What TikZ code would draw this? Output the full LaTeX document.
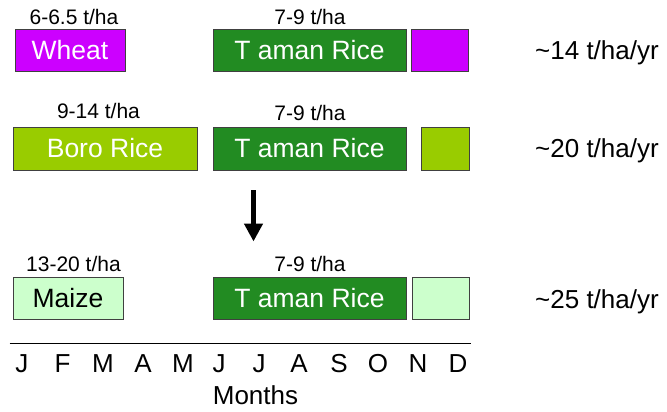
\documentclass[tikz,border=0pt]{standalone}
\usepackage{fontspec}
\setmainfont{Liberation Sans}
\usetikzlibrary{arrows.meta}
\definecolor{wheatc}{HTML}{CC00FF}
\definecolor{boroc}{HTML}{99CC00}
\definecolor{amanc}{HTML}{228B22}
\definecolor{maizec}{HTML}{CCFFCC}
\definecolor{edgec}{HTML}{404040}
\begin{document}
\begin{tikzpicture}[x=1pt,y=-1pt,
  crop/.style={draw=edgec,line width=0.9pt,inner sep=0pt,minimum height=42pt,
    font=\fontsize{26.5}{26.5}\selectfont},
  yieldlbl/.style={anchor=base,inner sep=0pt,font=\fontsize{21}{21}\selectfont},
  annual/.style={anchor=west,inner sep=0pt,font=\fontsize{26}{26}\selectfont},
  month/.style={anchor=base,inner sep=0pt,font=\fontsize{26}{26}\selectfont}]
\useasboundingbox (0,0) rectangle (667,412);
% row 1
\node[crop,fill=wheatc,text=white,minimum width=110pt] (wheat) at (70,50) {Wheat};
\node[crop,fill=amanc,text=white,minimum width=193pt] (aman1) at (309.5,50) {T aman Rice};
\node[crop,fill=wheatc,minimum width=57pt] (wheat2) at (439.5,50) {};
\node[yieldlbl] (l1a) at (74,25) {6-6.5 t/ha};
\node[yieldlbl] (l1b) at (310,25) {7-9 t/ha};
\node[annual] (y1) at (535,53) {\textasciitilde14 t/ha/yr};
% row 2
\node[crop,fill=boroc,text=white,minimum width=184pt,minimum height=43pt] (boro) at (105,148.5) {Boro Rice};
\node[crop,fill=amanc,text=white,minimum width=193pt,minimum height=43pt] (aman2) at (309.5,148.5) {T aman Rice};
\node[crop,fill=boroc,minimum width=48pt,minimum height=43pt] (boro2) at (445,148.5) {};
\node[yieldlbl] (l2a) at (98.5,118) {9-14 t/ha};
\node[yieldlbl] (l2b) at (310,121) {7-9 t/ha};
\node[annual] (y2) at (535,151) {\textasciitilde20 t/ha/yr};
% arrow
\coordinate (atop) at (253.5,190);
\coordinate (abot) at (253.5,241.5);
\draw[line width=5pt,-{Triangle[width=18pt,length=18pt]}] (atop) -- (abot);
% row 3
\node[crop,fill=maizec,minimum width=110pt] (maize) at (68,298) {Maize};
\node[crop,fill=amanc,text=white,minimum width=193pt] (aman3) at (309.5,298) {T aman Rice};
\node[crop,fill=maizec,minimum width=57pt] (maize2) at (440.5,298) {};
\node[yieldlbl] (l3a) at (73.5,271) {13-20 t/ha};
\node[yieldlbl] (l3b) at (310,271) {7-9 t/ha};
\node[annual] (y3) at (535,302) {\textasciitilde25 t/ha/yr};
% axis
\coordinate (ax0) at (9.5,343.5);
\coordinate (ax1) at (471,343.5);
\draw[line width=1.8pt] (ax0) -- (ax1);
\foreach \m/\x [count=\i] in {J/22,F/62.5,M/103,A/143,M/183,J/219,J/259,A/299,S/339,O/378,N/418,D/458}
  \node[month] (m\i) at (\x,372.5) {\m};
\node[month] (months) at (255.5,404) {Months};
\end{tikzpicture}
\end{document}
